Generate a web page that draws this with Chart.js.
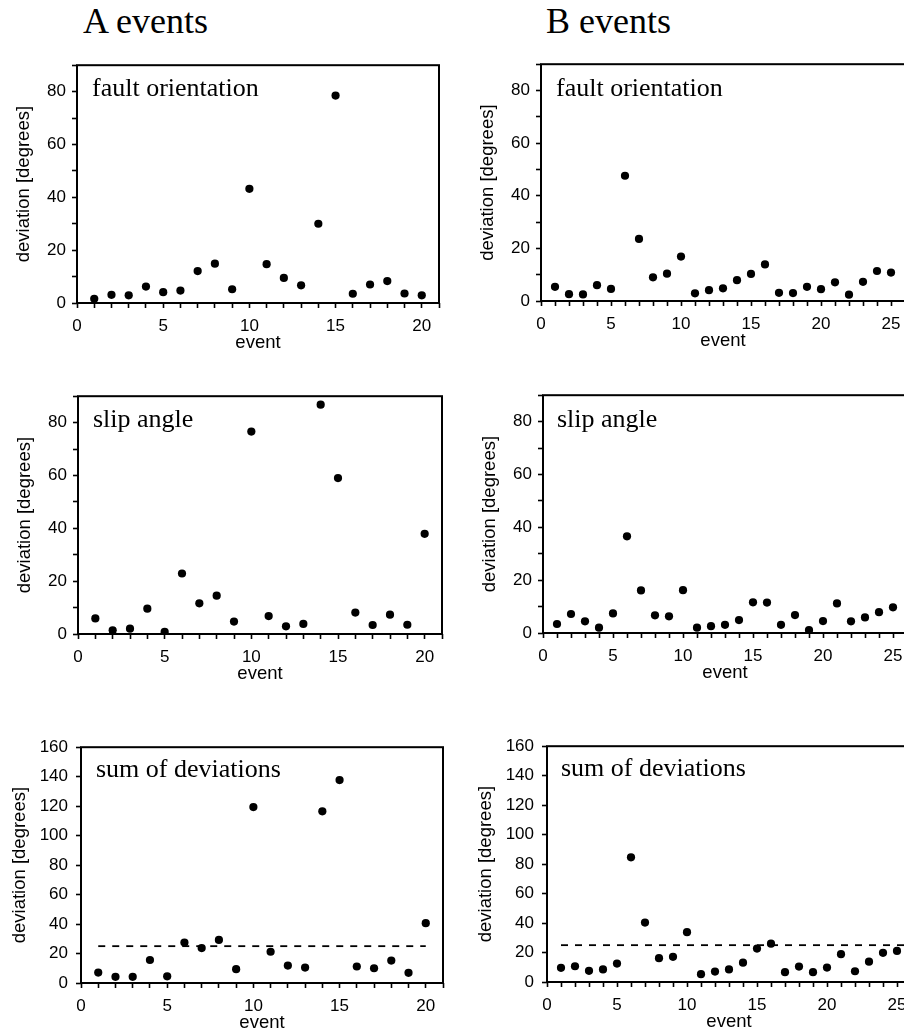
<!DOCTYPE html>
<html>
<head>
<meta charset="utf-8">
<script src="https://cdn.jsdelivr.net/npm/chart.js@4.4.1/dist/chart.umd.min.js"></script>
<style>
  body { margin: 0; background: #fff; }
  #page { position: relative; width: 904px; height: 1036px; overflow: hidden; background: #fff; }
  .panel { position: absolute; }
  .head { position: absolute; font-family: "Liberation Serif", "Times New Roman", serif; font-size: 36px; line-height: 36px; color: #000; white-space: nowrap; }
  .lbl { position: absolute; font-family: "Liberation Serif", "Times New Roman", serif; font-size: 26px; line-height: 26px; color: #000; white-space: nowrap; }
</style>
</head>
<body>
<div id="page">
  <div class="head" style="left:83px;top:3px;">A events</div>
  <div class="head" style="left:546px;top:3px;">B events</div>

  <div class="panel" style="left:7px;top:49px;width:442px;height:309px;"><canvas id="a1"></canvas></div>
  <div class="panel" style="left:471px;top:48px;width:444px;height:308px;"><canvas id="b1"></canvas></div>
  <div class="panel" style="left:8px;top:380px;width:444px;height:309px;"><canvas id="a2"></canvas></div>
  <div class="panel" style="left:473px;top:379px;width:444px;height:309px;"><canvas id="b2"></canvas></div>
  <div class="panel" style="left:3px;top:729px;width:450px;height:309px;"><canvas id="a3"></canvas></div>
  <div class="panel" style="left:469px;top:728px;width:452px;height:309px;"><canvas id="b3"></canvas></div>

  <div class="lbl" style="left:92px;top:75px;">fault orientation</div>
  <div class="lbl" style="left:556px;top:75px;">fault orientation</div>
  <div class="lbl" style="left:93px;top:406px;">slip angle</div>
  <div class="lbl" style="left:557px;top:406px;">slip angle</div>
  <div class="lbl" style="left:96px;top:756px;">sum of deviations</div>
  <div class="lbl" style="left:561px;top:755px;">sum of deviations</div>
</div>

<script>
// ---------- data ----------
const eventsA = [1, 2, 3, 4, 5, 6, 7, 8, 9, 10, 11, 12, 13, 14, 15, 16, 17, 18, 19, 20];
const eventsB = [1, 2, 3, 4, 5, 6, 7, 8, 9, 10, 11, 12, 13, 14, 15, 16, 17, 18, 19, 20, 21, 22, 23, 24, 25];

const faultA = [1.6, 3.1, 2.9, 6.2, 4.1, 4.7, 12.1, 14.9, 5.2, 43.2, 14.7, 9.5, 6.7, 30.0, 78.5, 3.5, 7.0, 8.3, 3.6, 2.9];
const faultB = [5.4, 2.6, 2.5, 6.0, 4.6, 47.6, 23.6, 9.0, 10.4, 16.9, 2.9, 4.1, 4.8, 7.9, 10.3, 13.9, 3.1, 3.0, 5.4, 4.5, 7.1, 2.4, 7.3, 11.4, 10.8];

const slipA = [5.9, 1.4, 2.0, 9.6, 0.8, 22.9, 11.6, 14.5, 4.7, 76.6, 6.8, 2.9, 3.8, 86.8, 59.0, 8.1, 3.4, 7.3, 3.5, 37.9];
const slipB = [3.4, 7.2, 4.4, 2.0, 7.4, 36.6, 16.1, 6.7, 6.3, 16.2, 2.0, 2.6, 3.1, 4.9, 11.6, 11.5, 3.1, 6.8, 1.1, 4.5, 11.2, 4.4, 5.9, 7.9, 9.7];

const sumA = [7.1, 4.2, 4.2, 15.6, 4.5, 27.4, 23.7, 29.2, 9.4, 119.4, 21.2, 11.8, 10.5, 116.5, 137.7, 11.2, 10.0, 15.2, 6.9, 40.6];
const sumB = [9.6, 10.7, 7.6, 8.5, 12.5, 84.6, 40.3, 16.2, 17.1, 33.8, 5.3, 7.1, 8.5, 13.1, 22.7, 26.0, 6.7, 10.5, 6.7, 9.8, 18.9, 7.3, 13.8, 19.8, 21.1];

// dashed threshold in the sum panels
const threshXA = [1, 20];
const threshXB = [1, 26];
const threshY = [25, 25];

// ---------- style ----------
const SANS = "'Liberation Sans', Arial, sans-serif";

// black frame round the plot area
const boxPlugin = {
  id: "box",
  afterDraw(chart) {
    const { ctx, chartArea: a } = chart;
    ctx.save();
    ctx.strokeStyle = "#000";
    ctx.lineWidth = 2;
    ctx.strokeRect(a.left, a.top, a.right - a.left, a.bottom - a.top);
    ctx.restore();
  }
};

function makePanel(id, events, values, opt) {
  const datasets = [{
    data: events.map((e, i) => ({ x: e, y: values[i] })),
    backgroundColor: "#000",
    borderWidth: 0,
    pointRadius: 4.1,
    pointHoverRadius: 4.1
  }];

  if (opt.threshX) {
    datasets.push({
      data: opt.threshX.map((x, i) => ({ x: x, y: threshY[i] })),
      showLine: true,
      borderColor: "#000",
      borderWidth: 1.8,
      borderDash: [7, 7],
      pointRadius: 0
    });
  }

  new Chart(document.getElementById(id), {
    type: "scatter",
    data: { datasets },
    options: {
      responsive: true,
      maintainAspectRatio: false,
      animation: false,
      layout: { padding: { top: 14, right: 10, left: 0, bottom: 0 } },
      plugins: { legend: { display: false }, tooltip: { enabled: false } },
      scales: {
        x: {
          type: "linear",
          min: 0,
          max: opt.xMax,
          border: { display: false },
          grid: { drawOnChartArea: false, drawTicks: true, tickLength: 5, tickColor: "#000", tickWidth: 1.6, color: "#000" },
          ticks: {
            stepSize: 1,
            autoSkip: false,
            maxRotation: 0,
            padding: 8,
            color: "#000",
            font: { family: SANS, size: 17 },
            callback: v => (v % 5 === 0 ? v : "")
          },
          title: { display: true, text: "event", color: "#000", font: { family: SANS, size: 18.5 }, padding: { top: 0, bottom: 4 } },
          afterFit: s => { s.height = 55; }
        },
        y: {
          min: 0,
          max: opt.yMax,
          border: { display: false },
          grid: { drawOnChartArea: false, drawTicks: true, tickLength: 5, tickColor: "#000", tickWidth: 1.6, color: "#000" },
          ticks: {
            stepSize: opt.yStep,
            autoSkip: false,
            padding: opt.tickPad,
            color: "#000",
            font: { family: SANS, size: 17 },
            callback: v => (v % 20 === 0 ? v : "")
          },
          title: { display: true, text: "deviation [degrees]", color: "#000", font: { family: SANS, size: 18.5 }, padding: { top: 6, bottom: 4 } },
          afterFit: s => { s.width = opt.yWidth; }
        }
      }
    },
    plugins: [boxPlugin]
  });
}

const rowOpt = { yMax: 90, yStep: 10, yWidth: 70, tickPad: 6 };
const sumOpt = { yMax: 160, yStep: 20, yWidth: 78, tickPad: 8 };

makePanel("a1", eventsA, faultA, { ...rowOpt, xMax: 21 });
makePanel("b1", eventsB, faultB, { ...rowOpt, xMax: 26 });
makePanel("a2", eventsA, slipA, { ...rowOpt, xMax: 21 });
makePanel("b2", eventsB, slipB, { ...rowOpt, xMax: 26 });
makePanel("a3", eventsA, sumA, { ...sumOpt, xMax: 21, threshX: threshXA });
makePanel("b3", eventsB, sumB, { ...sumOpt, xMax: 26, threshX: threshXB });
</script>
</body>
</html>
